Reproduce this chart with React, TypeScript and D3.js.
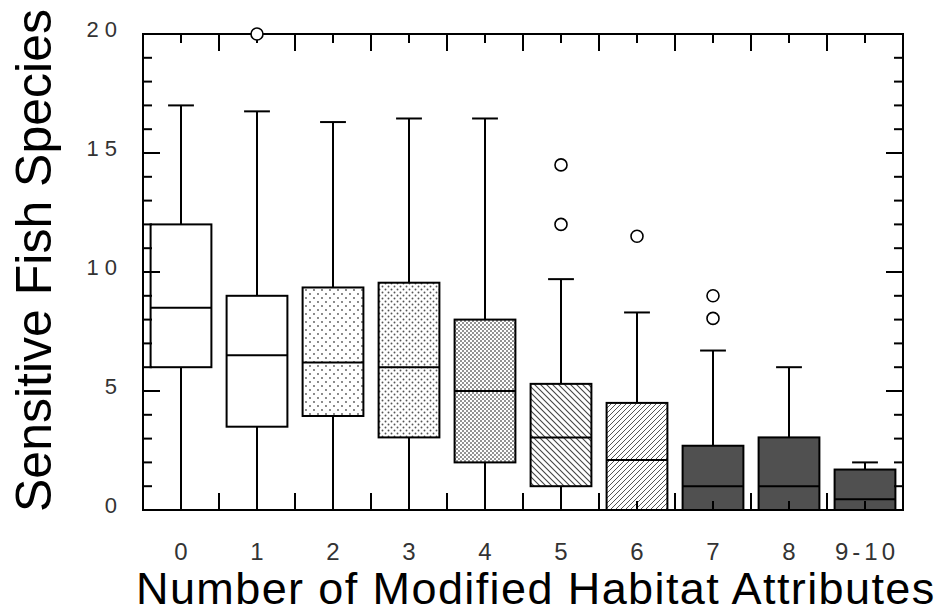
import React from "react";
import * as d3 from "d3";

const categories = ["0", "1", "2", "3", "4", "5", "6", "7", "8", "9-10"];
const q1 = [6.0, 3.5, 3.95, 3.05, 2.0, 1.0, 0, 0, 0, 0];
const medians = [8.5, 6.5, 6.2, 6.0, 5.0, 3.05, 2.1, 1.0, 1.0, 0.45];
const q3 = [12.0, 9.0, 9.35, 9.55, 8.0, 5.3, 4.5, 2.7, 3.05, 1.7];
const whiskerLow = [0, 0, 0, 0, 0, 0, 0, 0, 0, 0];
const whiskerHigh = [17.0, 16.75, 16.3, 16.45, 16.45, 9.7, 8.3, 6.7, 6.0, 2.0];
const outliers: number[][] = [[], [20], [], [], [], [14.5, 12.0], [11.5], [9.0, 8.05], [], []];
const yTickLabels = [0, 5, 10, 15, 20];

const boxFills = [
  "#ffffff",
  "#ffffff",
  "url(#dotsSparse)",
  "url(#dotsMedium)",
  "url(#dotsDense)",
  "url(#hatchBack)",
  "url(#hatchFwd)",
  "#505050",
  "#505050",
  "#505050",
];

const W = 947;
const H = 614;
const left = 143;
const right = 903;
const top = 34;
const bottom = 510;

export default function App() {
  const x = d3.scaleBand<string>().domain(categories).range([left, right]).padding(0);
  const y = d3.scaleLinear().domain([0, 20]).range([bottom, top]);
  const bw = x.bandwidth();
  const boxW = bw * 0.8;
  const capW = bw * 0.34;
  const center = (c: string) => (x(c) as number) + bw / 2;

  const minorY = d3.range(0, 21, 1);
  const majorX = categories.slice(1).map((c) => x(c) as number);
  const minorX = categories.map(center);

  const font = "'Liberation Sans', Arial, Helvetica, sans-serif";
  const sw = 2;

  return (
    <div style={{ position: "absolute", left: 0, top: 0 }}>
      <svg width={W} height={H} style={{ display: "block", background: "#fff" }}>
        <defs>
          <pattern id="dotsSparse" width={8} height={8} patternUnits="userSpaceOnUse">
            <rect width={8} height={8} fill="#fff" />
            <circle cx={2} cy={2} r={0.9} fill="#555" />
            <circle cx={6} cy={6} r={0.9} fill="#555" />
          </pattern>
          <pattern id="dotsMedium" width={6} height={6} patternUnits="userSpaceOnUse">
            <rect width={6} height={6} fill="#fff" />
            <circle cx={1.5} cy={1.5} r={0.95} fill="#555" />
            <circle cx={4.5} cy={4.5} r={0.95} fill="#555" />
          </pattern>
          <pattern id="dotsDense" width={4} height={4} patternUnits="userSpaceOnUse">
            <rect width={4} height={4} fill="#fff" />
            <circle cx={1} cy={1} r={0.95} fill="#666" />
            <circle cx={3} cy={3} r={0.95} fill="#666" />
          </pattern>
          <pattern id="hatchBack" width={6} height={6} patternUnits="userSpaceOnUse">
            <rect width={6} height={6} fill="#fff" />
            <path d="M-1,-1 L7,7 M-1,5 L1,7 M5,-1 L7,1" stroke="#444" strokeWidth={1.1} />
          </pattern>
          <pattern id="hatchFwd" width={5} height={5} patternUnits="userSpaceOnUse">
            <rect width={5} height={5} fill="#fff" />
            <path d="M-1,6 L6,-1 M-1,1 L1,-1 M4,6 L6,4" stroke="#555" strokeWidth={1} />
          </pattern>
        </defs>

        {/* boxes */}
        {categories.map((c, i) => {
          const cx = center(c);
          const yq1 = y(q1[i]);
          const yq3 = y(q3[i]);
          return (
            <g key={c}>
              <line x1={cx} x2={cx} y1={yq3} y2={y(whiskerHigh[i])} stroke="#000" strokeWidth={sw} />
              <line x1={cx - capW / 2} x2={cx + capW / 2} y1={y(whiskerHigh[i])} y2={y(whiskerHigh[i])} stroke="#000" strokeWidth={sw} />
              {q1[i] > whiskerLow[i] && (
                <line x1={cx} x2={cx} y1={yq1} y2={y(whiskerLow[i])} stroke="#000" strokeWidth={sw} />
              )}
              <rect x={cx - boxW / 2} y={yq3} width={boxW} height={yq1 - yq3} fill={boxFills[i]} stroke="#000" strokeWidth={sw} />
              <line x1={cx - boxW / 2} x2={cx + boxW / 2} y1={y(medians[i])} y2={y(medians[i])} stroke="#000" strokeWidth={sw} />
            </g>
          );
        })}

        {/* axis frame */}
        <rect x={left} y={top} width={right - left} height={bottom - top} fill="none" stroke="#000" strokeWidth={sw} />

        {/* y ticks left & right */}
        {minorY.map((v) => {
          const len = v % 5 === 0 ? 17 : 9;
          const yy = y(v);
          return (
            <g key={"yt" + v}>
              <line x1={left} x2={left + len} y1={yy} y2={yy} stroke="#000" strokeWidth={sw} />
              <line x1={right} x2={right - len} y1={yy} y2={yy} stroke="#000" strokeWidth={sw} />
            </g>
          );
        })}
        {/* x ticks top & bottom */}
        {majorX.map((xx, i) => (
          <g key={"xM" + i}>
            <line x1={xx} x2={xx} y1={top} y2={top + 17} stroke="#000" strokeWidth={sw} />
            <line x1={xx} x2={xx} y1={bottom} y2={bottom - 17} stroke="#000" strokeWidth={sw} />
          </g>
        ))}
        {minorX.map((xx, i) => (
          <g key={"xm" + i}>
            <line x1={xx} x2={xx} y1={top} y2={top + 9} stroke="#000" strokeWidth={sw} />
            <line x1={xx} x2={xx} y1={bottom} y2={bottom - 9} stroke="#000" strokeWidth={sw} />
          </g>
        ))}

        {/* outliers */}
        {categories.map((c, i) =>
          outliers[i].map((v, j) => (
            <circle key={c + "o" + j} cx={center(c)} cy={y(v)} r={6} fill="#fff" stroke="#000" strokeWidth={1.6} />
          ))
        )}

        {/* y tick labels */}
        {yTickLabels.map((v) => (
          <text key={"yl" + v} x={123} y={y(v) + 3} textAnchor="end" fontFamily={font} fontSize={22} letterSpacing={6} fill="#333">
            {String(v)}
          </text>
        ))}

        {/* x tick labels */}
        {categories.map((c) => (
          <text key={"xl" + c} x={center(c) + 2} y={560} textAnchor="middle" fontFamily={font} fontSize={24} letterSpacing={4} fill="#333">
            {c}
          </text>
        ))}

        {/* axis titles */}
        <text x={136} y={604} fontFamily={font} fontSize={45} letterSpacing={1.4} fill="#000">
          Number of Modified Habitat Attributes
        </text>
        <text transform="translate(51,512) rotate(-90)" fontFamily={font} fontSize={50} fill="#000">
          Sensitive Fish Species
        </text>
      </svg>
    </div>
  );
}
